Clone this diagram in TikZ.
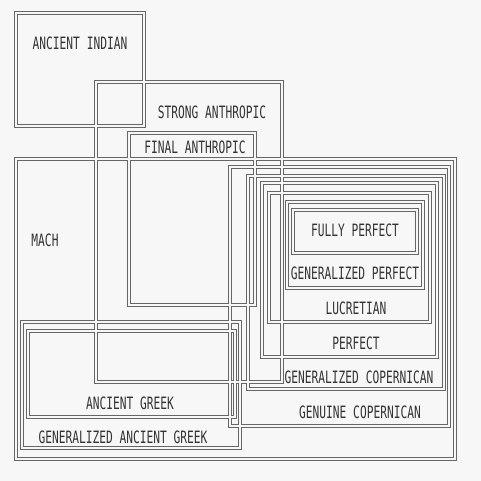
\documentclass[tikz,border=0pt]{standalone}
\usepackage{fontspec}
\usepackage{xcolor}
\usepackage{tikz}
\newfontfamily\plotfont{DejaVu Sans Mono}
\colorlet{paper}{white!97!black}

\begin{document}
\begin{tikzpicture}[x=1pt, y=-1pt,
    outerline/.style={draw=black!60, line width=3.8pt},
    innerline/.style={draw=paper, line width=1.4pt},
    lbl/.style={text=black!80, font=\plotfont\fontsize{17}{18}\selectfont, xscale=0.66, inner sep=0pt}]
    \fill[paper] (0,0) rectangle (481,481);
    \useasboundingbox (0,0) rectangle (481,481);
    \foreach \sty in {outerline, innerline}
      \foreach \xa/\ya/\xb/\yb in {16/13/144/126, 96/82/282/382, 129/133/255/305,
          16/159/455/459, 22/322/240/448, 28/331/235/417,
          230/167/449/426, 248/176/444/389, 262/183/437/357,
          269/193/430/322, 287/202/423/288, 293/210/417/253}
        \draw[\sty] (\xa,\ya) rectangle (\xb,\yb);
    \node[lbl] (indian) at (80,43) {ANCIENT INDIAN};
    \node[lbl] (strong) at (212,112) {STRONG ANTHROPIC};
    \node[lbl] (final) at (195,147) {FINAL ANTHROPIC};
    \node[lbl] (mach) at (45,240) {MACH};
    \node[lbl] (fully) at (355,230) {FULLY PERFECT};
    \node[lbl] (genperf) at (355,273) {GENERALIZED PERFECT};
    \node[lbl] (lucretian) at (356,308) {LUCRETIAN};
    \node[lbl] (perfect) at (356,343) {PERFECT};
    \node[lbl] (gencop) at (359,377) {GENERALIZED COPERNICAN};
    \node[lbl] (genuine) at (360,412) {GENUINE COPERNICAN};
    \node[lbl] (greek) at (130,403) {ANCIENT GREEK};
    \node[lbl] (gengreek) at (123,437) {GENERALIZED ANCIENT GREEK};
\end{tikzpicture}
\end{document}
